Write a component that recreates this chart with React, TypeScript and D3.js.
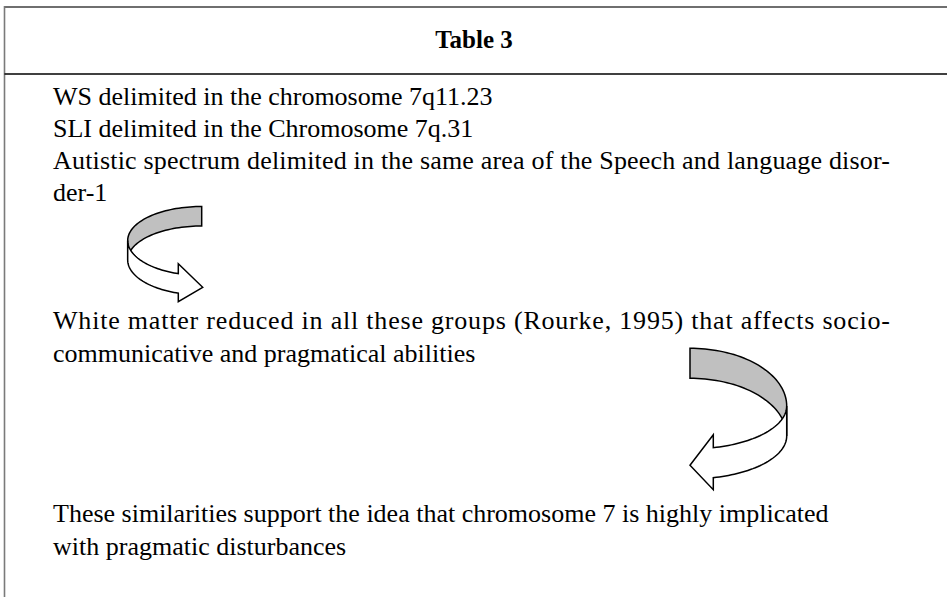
import React from "react";
import * as d3 from "d3";

// ---- content ----
const titleText = "Table 3";
const block1Lines = [
  "WS delimited in the chromosome 7q11.23",
  "SLI delimited in the Chromosome 7q.31",
  "Autistic spectrum delimited in the same area of the Speech and language disor-",
  "der-1",
];
const block1Justified = [false, false, true, false];
const block2Lines = [
  "White matter reduced in all these groups (Rourke, 1995) that affects socio-",
  "communicative and pragmatical abilities",
];
const block2Justified = [true, false];
const block3Lines = [
  "These similarities support the idea that chromosome 7 is highly implicated",
  "with pragmatic disturbances",
];
const block3Justified = [false, false];

// ---- layout ----
const W = 947;
const H = 597;
const FONT = "'Liberation Serif', 'Times New Roman', serif";
const FS = 26;
const TEXT_X = 53;
const TEXT_RIGHT = 890;
const blocks = [
  { lines: block1Lines, just: block1Justified, y0: 104.5, step: 32 },
  { lines: block2Lines, just: block2Justified, y0: 329, step: 33 },
  { lines: block3Lines, just: block3Justified, y0: 522, step: 33 },
];

// curved ribbon arrows (side: -1 = bends left, +1 = bends right)
const arrows = [
  { cx: 201.7, cy: 240.5, rx: 74, ryB: 34, ryF: 35, h: 19.5, side: -1, baseX: 178.3, barbUp: 10, barbDown: 8.5, tipLen: 24.4 },
  { cx: 690, cy: 406, rx: 96.7, ryB: 57.7, ryF: 43, h: 30, side: 1, baseX: 713.3, barbUp: 13, barbDown: 12, tipLen: 23.3 },
];

function ellipsePts(cx: number, cy: number, rx: number, ry: number, a0: number, a1: number, n = 40) {
  return d3.range(n + 1).map((i) => {
    const a = a0 + ((a1 - a0) * i) / n;
    return [cx + rx * Math.cos(a), cy + ry * Math.sin(a)] as [number, number];
  });
}

function arrowPaths(a: typeof arrows[number]) {
  const line = d3.line();
  const sideA = a.side < 0 ? Math.PI : 0;
  const topA = -Math.PI / 2;
  const backTop = ellipsePts(a.cx, a.cy, a.rx, a.ryB, topA, a.side < 0 ? -Math.PI : 0);
  const backBot = ellipsePts(a.cx, a.cy + a.h, a.rx, a.ryB, a.side < 0 ? -Math.PI : 0, topA);
  const back = line([...backTop, ...backBot])! + "Z";
  const endA = Math.acos((a.baseX - a.cx) / a.rx);
  const frontTop = ellipsePts(a.cx, a.cy, a.rx, a.ryF, sideA, endA);
  const frontBot = ellipsePts(a.cx, a.cy + a.h, a.rx, a.ryF, endA, sideA);
  const topBase = frontTop[frontTop.length - 1];
  const botBase = frontBot[0];
  const dir = -a.side;
  const s = Math.sin(endA), c = Math.cos(endA);
  const slope = Math.abs((a.ryF * c) / (a.rx * s));
  const midY = (topBase[1] + botBase[1]) / 2;
  const tip: [number, number] = [a.baseX + dir * a.tipLen, midY + a.tipLen * slope];
  const head: [number, number][] = [
    [a.baseX, topBase[1] - a.barbUp],
    tip,
    [a.baseX, botBase[1] + a.barbDown],
  ];
  const front = line([...frontTop, ...head, ...frontBot])! + "Z";
  return { back, front };
}

export default function App() {
  return (
    <svg width={W} height={H} style={{ position: "absolute", left: 0, top: 0, background: "#fff" }}>
      <rect x={0} y={0} width={W} height={H} fill="#fff" />
      <line x1={4.5} x2={W} y1={7} y2={7} stroke="#6f6f6f" strokeWidth={2} />
      <line x1={4.5} x2={4.5} y1={6} y2={H} stroke="#7a7a7a" strokeWidth={1.6} />
      <line x1={4.5} x2={W} y1={74} y2={74} stroke="#000" strokeWidth={1.6} />
      <text x={474} y={48} textAnchor="middle" fontFamily={FONT} fontSize={25} fontWeight="bold" fill="#000">
        {titleText}
      </text>
      {blocks.map((b, bi) =>
        b.lines.map((t, i) => (
          <text
            key={`${bi}-${i}`}
            x={TEXT_X}
            y={b.y0 + i * b.step}
            fontFamily={FONT}
            fontSize={FS}
            fill="#000"
            {...(b.just[i] ? { textLength: TEXT_RIGHT - TEXT_X, lengthAdjust: "spacing" } : {})}
          >
            {t}
          </text>
        ))
      )}
      {arrows.map((a, i) => {
        const p = arrowPaths(a);
        return (
          <g key={i} stroke="#000" strokeWidth={1.5} strokeLinejoin="miter">
            <path d={p.back} fill="#c0c0c0" />
            <path d={p.front} fill="#fff" />
          </g>
        );
      })}
    </svg>
  );
}
